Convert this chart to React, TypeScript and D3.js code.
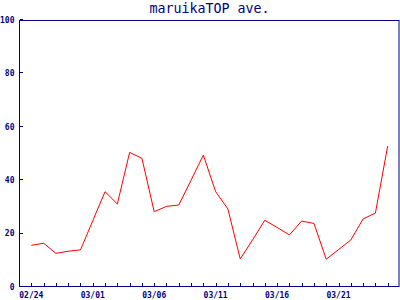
import React from "react";
import * as d3 from "d3";

const dates: string[] = [
  "02/24", "02/25", "02/26", "02/27", "02/28",
  "03/01", "03/02", "03/03", "03/04", "03/05",
  "03/06", "03/07", "03/08", "03/09", "03/10",
  "03/11", "03/12", "03/13", "03/14", "03/15",
  "03/16", "03/17", "03/18", "03/19", "03/20",
  "03/21", "03/22", "03/23", "03/24", "03/25",
];
const values: number[] = [
  15.6, 16.4, 12.6, 13.4, 13.9,
  24.8, 35.7, 31.1, 50.4, 48.2,
  28.2, 30.2, 30.7, 40.0, 49.4,
  35.7, 29.2, 10.5, 17.6, 25.0,
  22.3, 19.5, 24.7, 23.8, 10.4,
  14.0, 17.6, 25.5, 27.7, 52.8,
];
const labeledDates: string[] = ["02/24", "03/01", "03/06", "03/11", "03/16", "03/21"];
const yTicks: number[] = [0, 20, 40, 60, 80, 100];
const title = "maruikaTOP ave.";

const W = 400, H = 300;
const L = 20, R = 399, T = 20, B = 287;
const NAVY = "#000080";
const MONO = "'DejaVu Sans Mono', 'Liberation Mono', monospace";

export default function App() {
  const x = d3.scalePoint<string>().domain(dates).range([L, R]).padding(0.92);
  const y = d3.scaleLinear().domain([0, 100]).range([B, T]);
  const line = d3
    .line<number>()
    .x((_, i) => x(dates[i]) as number)
    .y((d) => y(d));

  return (
    <div style={{ position: "absolute", left: 0, top: 0 }}>
      <svg width={W} height={H} style={{ display: "block", background: "#fff" }}>
        <text
          x={(L + R) / 2}
          y={13}
          textAnchor="middle"
          fontFamily={MONO}
          fontSize={13.3}
          fill={NAVY}
        >
          {title}
        </text>
        <rect
          x={L - 0.5}
          y={T + 0.5}
          width={R - L + 0.5}
          height={B - T - 1}
          fill="none"
          stroke={NAVY}
          strokeWidth={1}
        />
        {yTicks.map((t) => (
          <g key={t}>
            <line
              x1={L}
              x2={L + 3}
              y1={Math.round(y(t)) - 0.5}
              y2={Math.round(y(t)) - 0.5}
              stroke={NAVY}
            />
            <text
              x={14.5}
              y={y(t)}
              dy="0.35em"
              textAnchor="end"
              fontFamily={MONO}
              fontSize={8}
              fontWeight="bold"
              fill={NAVY}
            >
              {t}
            </text>
          </g>
        ))}
        {dates.map((d) => {
          const px = Math.round(x(d) as number) + 0.5;
          return (
            <line key={d} x1={px} x2={px} y1={B - 4} y2={B} stroke={NAVY} />
          );
        })}
        {labeledDates.map((d) => (
          <text
            key={d}
            x={x(d) as number}
            y={297.5}
            textAnchor="middle"
            fontFamily={MONO}
            fontSize={8}
            fontWeight="bold"
            fill={NAVY}
          >
            {d}
          </text>
        ))}
        <path d={line(values) || ""} fill="none" stroke="#ff0000" strokeWidth={1} />
      </svg>
    </div>
  );
}
